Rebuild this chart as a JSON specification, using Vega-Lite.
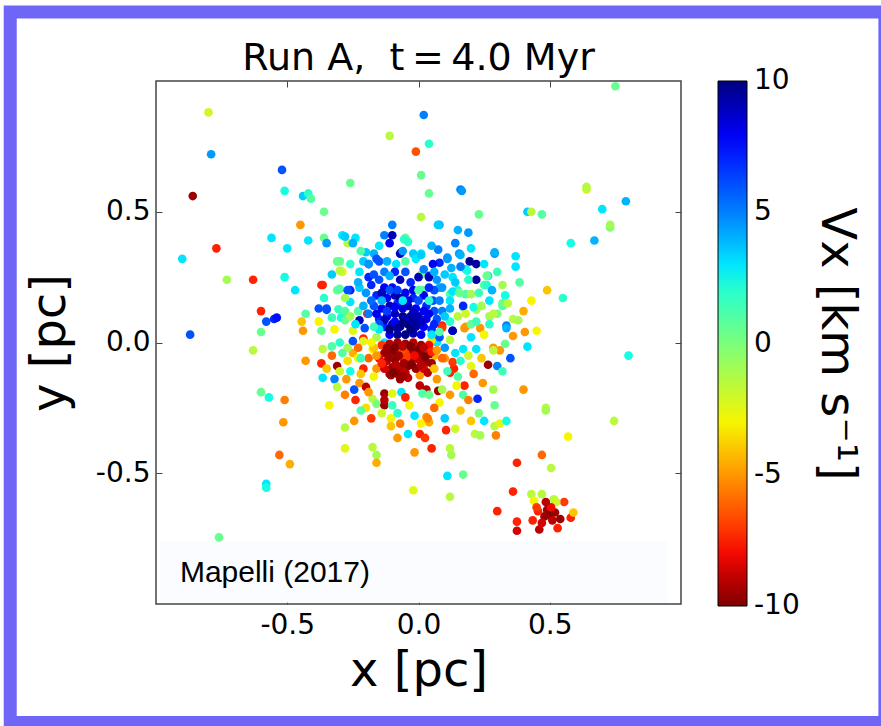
{
"$schema": "https://vega.github.io/schema/vega-lite/v6.json",
"width": 525,
"height": 523,
"autosize": {"type": "none"},
"padding": {"left": 156, "top": 81, "right": 200, "bottom": 122},
"background": "white",
"config": {
  "font": "DejaVu Sans",
  "view": {"stroke": "#444444", "strokeWidth": 1.5},
  "axis": {"grid": false, "domain": false, "labelColor": "black", "titleColor": "black", "labelFontSize": 28, "titleFontSize": 48, "titleFontWeight": "normal", "tickColor": "#444444", "tickSize": -6, "tickWidth": 1}
},
"title": {"text": "Run A,\u00a0\u00a0t\u2009=\u20094.0 Myr", "fontSize": 38, "fontWeight": "normal", "color": "black", "offset": -103, "baseline": "alphabetic", "anchor": "middle"},
"layer": [
  {
    "data": {"values": [{}]},
    "mark": {"type": "rect", "fill": "#fafcff"},
    "encoding": {
      "x": {"datum": -0.985, "type": "quantitative", "scale": {"domain": [-1, 1], "nice": false, "zero": false}, "axis": null},
      "x2": {"datum": 0.95},
      "y": {"datum": -0.76, "type": "quantitative", "scale": {"domain": [-1, 1], "nice": false, "zero": false}, "axis": null},
      "y2": {"datum": -0.995}
    }
  },
  {
    "data": {"values": [
{"x":-0.80,"y":0.88,"v":-2},{"x":-0.79,"y":0.72,"v":4.5},{"x":-0.52,"y":0.66,"v":6},{"x":-0.86,"y":0.56,"v":-9.5},{"x":-0.51,"y":0.58,"v":2.5},{"x":-0.44,"y":0.56,"v":3.5},{"x":-0.42,"y":0.57,"v":2},{"x":-0.41,"y":0.55,"v":1},{"x":-0.36,"y":0.50,"v":0.5},{"x":-0.26,"y":0.61,"v":0.5},{"x":-0.11,"y":0.79,"v":-1.5},{"x":0.02,"y":0.87,"v":5},{"x":0.04,"y":0.76,"v":2},{"x":-0.01,"y":0.73,"v":-6.5},{"x":0.01,"y":0.64,"v":0.5},{"x":0.04,"y":0.57,"v":0.5},{"x":0.01,"y":0.48,"v":-1.5},{"x":-0.45,"y":0.45,"v":-5},{"x":-0.56,"y":0.40,"v":3},{"x":-0.50,"y":0.36,"v":3},{"x":-0.42,"y":0.39,"v":3},{"x":-0.36,"y":0.40,"v":0.5},{"x":-0.35,"y":0.38,"v":4.5},{"x":-0.29,"y":0.41,"v":3},{"x":-0.27,"y":0.38,"v":-1.5},{"x":-0.24,"y":0.40,"v":3},{"x":-0.77,"y":0.36,"v":-7.5},{"x":-0.90,"y":0.32,"v":3},{"x":-0.73,"y":0.24,"v":-1},{"x":-0.63,"y":0.24,"v":-7.5},{"x":-0.51,"y":0.25,"v":2.5},{"x":-0.37,"y":0.22,"v":-7.5},{"x":-0.31,"y":0.31,"v":0.5},{"x":-0.29,"y":0.27,"v":-2.5},{"x":-0.47,"y":0.20,"v":3},{"x":-0.31,"y":0.20,"v":0.5},{"x":-0.60,"y":0.12,"v":-7.5},{"x":-0.58,"y":0.08,"v":6},{"x":-0.55,"y":0.09,"v":7},{"x":-0.54,"y":0.095,"v":7.5},{"x":-0.87,"y":0.03,"v":6},{"x":-0.60,"y":0.04,"v":0.5},{"x":-0.63,"y":-0.03,"v":-1.5},{"x":-0.43,"y":0.11,"v":1},{"x":-0.445,"y":0.08,"v":-4},{"x":-0.38,"y":0.08,"v":-3},{"x":-0.38,"y":0.13,"v":6},{"x":-0.35,"y":0.13,"v":6},{"x":-0.37,"y":0.045,"v":0.5},{"x":-0.44,"y":0.045,"v":-5},{"x":-0.305,"y":0.127,"v":1.5},{"x":-0.295,"y":0.095,"v":2.5},{"x":-0.26,"y":0.20,"v":7},{"x":-0.225,"y":0.27,"v":3},{"x":-0.19,"y":0.25,"v":7},{"x":-0.21,"y":0.31,"v":3.5},{"x":-0.17,"y":0.34,"v":4},{"x":-0.13,"y":0.41,"v":5},{"x":-0.10,"y":0.41,"v":9},{"x":-0.10,"y":0.45,"v":5},{"x":-0.11,"y":0.38,"v":8},{"x":-0.07,"y":0.34,"v":9},{"x":-0.05,"y":0.40,"v":0.5},{"x":-0.02,"y":0.34,"v":3.5},{"x":0.01,"y":0.34,"v":3},{"x":-0.05,"y":0.31,"v":1},{"x":0.01,"y":0.26,"v":0.5},{"x":-0.15,"y":0.31,"v":6},{"x":-0.12,"y":0.31,"v":4},{"x":-0.085,"y":0.30,"v":3},{"x":-0.19,"y":0.30,"v":6},
{"x":0.75,"y":0.98,"v":0.5},{"x":0.16,"y":0.585,"v":5},{"x":0.165,"y":0.58,"v":4.5},{"x":0.23,"y":0.49,"v":0.5},{"x":0.08,"y":0.45,"v":4},{"x":0.15,"y":0.43,"v":4},{"x":0.19,"y":0.42,"v":4.5},{"x":0.415,"y":0.50,"v":3.5},{"x":0.43,"y":0.50,"v":-1.5},{"x":0.47,"y":0.49,"v":1},{"x":0.64,"y":0.585,"v":-2},{"x":0.64,"y":0.595,"v":-1.5},{"x":0.70,"y":0.51,"v":3},{"x":0.79,"y":0.54,"v":4},{"x":0.73,"y":0.44,"v":0},{"x":0.73,"y":0.45,"v":-1},{"x":0.58,"y":0.38,"v":2.5},{"x":0.67,"y":0.39,"v":4},{"x":0.29,"y":0.34,"v":4.5},{"x":0.37,"y":0.33,"v":3},{"x":0.37,"y":0.29,"v":3},{"x":0.385,"y":0.23,"v":1},{"x":0.49,"y":0.20,"v":-4},{"x":0.55,"y":0.17,"v":2},{"x":0.43,"y":0.16,"v":-3},{"x":0.40,"y":0.12,"v":-4.5},{"x":0.36,"y":0.09,"v":-1.5},{"x":0.38,"y":0.085,"v":-1},{"x":0.45,"y":0.045,"v":-3},{"x":0.405,"y":0.04,"v":-5},{"x":0.335,"y":0.065,"v":5},{"x":0.415,"y":-0.016,"v":3},{"x":0.80,"y":-0.05,"v":2.5},{"x":0.32,"y":0.14,"v":1},{"x":0.265,"y":0.255,"v":3},{"x":0.25,"y":0.22,"v":1},{"x":0.195,"y":0.31,"v":9.5},{"x":0.22,"y":0.30,"v":9.5},{"x":0.22,"y":0.24,"v":9.5},{"x":0.18,"y":0.28,"v":3},{"x":0.075,"y":0.355,"v":5},{"x":0.08,"y":0.305,"v":7},{"x":0.11,"y":0.325,"v":4.5},{"x":0.125,"y":0.285,"v":4},{"x":0.155,"y":0.34,"v":4.5},{"x":0.13,"y":0.25,"v":3},{"x":0.15,"y":0.20,"v":2},{"x":0.18,"y":0.185,"v":1},{"x":0.20,"y":0.185,"v":-1},{"x":-0.055,"y":0.395,"v":2},{"x":-0.04,"y":0.385,"v":2},{"x":-0.065,"y":0.345,"v":9},{"x":0.055,"y":0.30,"v":8},{"x":0.04,"y":0.255,"v":7},{"x":0.015,"y":0.20,"v":1},{"x":0.12,"y":0.185,"v":1},{"x":0.17,"y":0.135,"v":0},{"x":0.18,"y":0.11,"v":-2},{"x":0.22,"y":0.125,"v":-1},{"x":0.27,"y":0.10,"v":-1},{"x":0.30,"y":0.11,"v":0},{"x":0.09,"y":0.065,"v":-7.5},{"x":0.13,"y":0.045,"v":7},{"x":0.175,"y":0.055,"v":-5},{"x":0.20,"y":0.02,"v":3},{"x":0.235,"y":0.055,"v":-5},{"x":0.055,"y":0.005,"v":1},{"x":0.285,"y":-0.02,"v":-5},{"x":0.31,"y":-0.03,"v":-5},{"x":0.35,"y":-0.06,"v":6},{"x":0.074,"y":0.45,"v":3.5},
{"x":-0.28,"y":0.405,"v":3.5},{"x":-0.06,"y":0.35,"v":4.5},{"x":-0.01,"y":0.32,"v":3},{"x":0.01,"y":0.335,"v":3.5},{"x":0.11,"y":0.32,"v":4.5},{"x":0.16,"y":0.335,"v":4},{"x":0.29,"y":0.345,"v":4},{"x":0.26,"y":0.255,"v":0.5},{"x":0.185,"y":0.275,"v":2.5},{"x":0.26,"y":0.22,"v":2},{"x":-0.20,"y":0.345,"v":3.5},{"x":-0.19,"y":0.30,"v":4.5},{"x":-0.16,"y":0.32,"v":6},{"x":-0.30,"y":0.31,"v":0.5},{"x":-0.30,"y":0.275,"v":-1.5},{"x":-0.365,"y":0.22,"v":-7.5},{"x":-0.30,"y":0.205,"v":1},{"x":-0.27,"y":0.20,"v":6},{"x":-0.225,"y":0.21,"v":3.5},{"x":-0.26,"y":0.155,"v":3},{"x":-0.35,"y":0.125,"v":6},{"x":-0.28,"y":0.12,"v":1},{"x":-0.33,"y":0.095,"v":1.5},{"x":-0.28,"y":0.085,"v":0.5},{"x":-0.225,"y":0.085,"v":9},{"x":-0.195,"y":0.11,"v":-7.5},{"x":-0.205,"y":0.055,"v":6},{"x":-0.25,"y":0.045,"v":-2.5},{"x":-0.21,"y":0.015,"v":-7.5},{"x":0.055,"y":0.16,"v":6},{"x":0.08,"y":0.21,"v":4},{"x":0.13,"y":0.195,"v":3},{"x":0.12,"y":0.16,"v":3},{"x":0.155,"y":0.19,"v":0.5},{"x":0.17,"y":0.14,"v":7},{"x":0.21,"y":0.135,"v":2.5},{"x":0.32,"y":0.15,"v":0.5},{"x":0.34,"y":0.15,"v":-1.5},{"x":0.285,"y":0.11,"v":-1.5},{"x":0.18,"y":0.06,"v":-5},{"x":0.13,"y":0.045,"v":9},{"x":0.09,"y":0.057,"v":-7},{"x":0.335,"y":0.055,"v":4},{"x":0.36,"y":0.025,"v":-5},
{"x":-0.365,"y":-0.025,"v":-1.5},{"x":-0.37,"y":-0.08,"v":-7.5},{"x":-0.31,"y":-0.09,"v":-9.5},{"x":-0.365,"y":-0.135,"v":3},{"x":-0.32,"y":-0.14,"v":5},{"x":-0.275,"y":-0.14,"v":-5},{"x":-0.28,"y":-0.20,"v":-5.5},{"x":-0.245,"y":-0.18,"v":6},{"x":-0.225,"y":-0.155,"v":-5},{"x":-0.20,"y":-0.17,"v":-9},{"x":-0.175,"y":-0.215,"v":-1.5},{"x":-0.16,"y":-0.235,"v":0},{"x":-0.13,"y":-0.195,"v":-9.5},{"x":-0.13,"y":-0.24,"v":-9.5},{"x":-0.13,"y":-0.22,"v":-9},{"x":-0.10,"y":-0.195,"v":-2.5},{"x":-0.065,"y":-0.19,"v":3},{"x":-0.035,"y":-0.24,"v":-3},{"x":-0.105,"y":-0.29,"v":-3},{"x":-0.105,"y":-0.32,"v":-4},{"x":-0.015,"y":-0.28,"v":3},{"x":0.03,"y":-0.285,"v":-5},{"x":0.04,"y":-0.305,"v":-4.5},{"x":0.01,"y":-0.31,"v":-3},{"x":0.035,"y":-0.29,"v":-5.5},{"x":-0.245,"y":-0.30,"v":-5},{"x":-0.28,"y":-0.325,"v":-1.5},{"x":-0.08,"y":-0.365,"v":-5},{"x":-0.04,"y":-0.35,"v":3},{"x":0.005,"y":-0.35,"v":-7.5},{"x":0.025,"y":-0.365,"v":-7},{"x":0.105,"y":-0.335,"v":-7.5},{"x":0.05,"y":-0.405,"v":-7.5},{"x":-0.015,"y":-0.42,"v":-5},{"x":-0.28,"y":-0.405,"v":-2.5},{"x":-0.175,"y":-0.40,"v":-1.5},{"x":-0.16,"y":-0.43,"v":-1},{"x":-0.16,"y":-0.46,"v":-4.5},{"x":0.12,"y":-0.405,"v":-1.5},{"x":0.125,"y":-0.43,"v":-1},{"x":0.215,"y":-0.35,"v":-1.5},{"x":0.235,"y":-0.355,"v":-1},{"x":0.295,"y":-0.355,"v":-5.5},{"x":0.29,"y":-0.32,"v":-1.5},{"x":0.31,"y":-0.31,"v":-2.5},{"x":0.335,"y":-0.30,"v":2.5},{"x":0.29,"y":-0.24,"v":0.5},{"x":0.285,"y":-0.18,"v":-1},{"x":0.225,"y":-0.215,"v":7},{"x":0.245,"y":-0.155,"v":-5},{"x":0.175,"y":-0.165,"v":-7.5},{"x":0.145,"y":-0.165,"v":-3},{"x":0.12,"y":-0.20,"v":-5},{"x":0.135,"y":-0.10,"v":-7.5},{"x":0.12,"y":-0.115,"v":-7.5},{"x":0.265,"y":-0.085,"v":-9.5},{"x":0.20,"y":-0.09,"v":-2.5},{"x":0.17,"y":-0.025,"v":3},{"x":0.22,"y":-0.025,"v":3},{"x":0.285,"y":-0.03,"v":-1.5},{"x":0.33,"y":-0.005,"v":0.5},{"x":0.005,"y":-0.165,"v":-9},{"x":0.03,"y":-0.18,"v":-9},{"x":0.075,"y":-0.185,"v":-9.5},{"x":0.015,"y":-0.195,"v":1},{"x":0.04,"y":-0.20,"v":0.5},{"x":-0.07,"y":-0.14,"v":-9.5},{"x":-0.04,"y":-0.135,"v":-9},{"x":-0.105,"y":-0.125,"v":-9.5},{"x":0.005,"y":-0.125,"v":-5},{"x":0.07,"y":-0.14,"v":-5},{"x":0.13,"y":-0.075,"v":-7},{"x":0.11,"y":-0.11,"v":1.5},{"x":0.15,"y":-0.13,"v":1},{"x":-0.21,"y":-0.10,"v":-7.5},{"x":-0.16,"y":-0.10,"v":-5},{"x":-0.15,"y":-0.05,"v":-4},{"x":-0.175,"y":-0.025,"v":-3},{"x":-0.30,"y":0.0,"v":2},{"x":-0.25,"y":0.005,"v":6},{"x":-0.21,"y":0.005,"v":-2.5},
{"x":0.11,"y":-0.51,"v":3},{"x":0.17,"y":-0.505,"v":0.5},{"x":0.12,"y":-0.59,"v":-1.5},{"x":-0.02,"y":-0.565,"v":-2.5},{"x":0.47,"y":-0.43,"v":-6},{"x":0.505,"y":-0.48,"v":-1.5},{"x":0.375,"y":-0.46,"v":-7.5},{"x":0.36,"y":-0.57,"v":-7.5},{"x":0.30,"y":-0.645,"v":-7.5},{"x":0.375,"y":-0.685,"v":-7.5},{"x":0.375,"y":-0.72,"v":-8.5},{"x":0.46,"y":-0.715,"v":-9},{"x":0.53,"y":-0.71,"v":-7.5},{"x":0.435,"y":-0.68,"v":-7.5},{"x":0.58,"y":-0.67,"v":-7.5},{"x":0.59,"y":-0.65,"v":-4},{"x":0.555,"y":-0.61,"v":-7},{"x":0.43,"y":-0.58,"v":-1.5},{"x":0.47,"y":-0.58,"v":-1.5},{"x":0.515,"y":-0.60,"v":-1.5},{"x":0.525,"y":-0.61,"v":-2},{"x":0.44,"y":-0.605,"v":-3},{"x":0.49,"y":-0.64,"v":-9.5},{"x":0.50,"y":-0.66,"v":-10},{"x":0.48,"y":-0.665,"v":-9.5},{"x":0.52,"y":-0.65,"v":-9.5},{"x":0.51,"y":-0.68,"v":-9},{"x":0.47,"y":-0.69,"v":-8.5},{"x":0.54,"y":-0.675,"v":-9.5},{"x":0.505,"y":-0.63,"v":-8},{"x":0.455,"y":-0.645,"v":-7.5},{"x":0.485,"y":-0.61,"v":-9},{"x":0.45,"y":-0.63,"v":-7},{"x":0.485,"y":-0.25,"v":-1.5},{"x":0.485,"y":-0.26,"v":-1},{"x":0.745,"y":-0.30,"v":-1.5},{"x":0.57,"y":-0.36,"v":-3},{"x":0.40,"y":-0.18,"v":-5},
{"x":-0.43,"y":-0.07,"v":-5},{"x":-0.60,"y":-0.19,"v":0.5},{"x":-0.57,"y":-0.21,"v":2.5},{"x":-0.51,"y":-0.22,"v":-5.5},{"x":-0.515,"y":-0.305,"v":-5},{"x":-0.53,"y":-0.43,"v":-6},{"x":-0.49,"y":-0.465,"v":-4.5},{"x":-0.58,"y":-0.54,"v":3},{"x":-0.58,"y":-0.555,"v":2.5},{"x":-0.76,"y":-0.745,"v":0.5},
{"x":-0.33,"y":-0.015,"v":1},{"x":-0.25,"y":-0.04,"v":-4.5},{"x":-0.23,"y":-0.06,"v":-3},{"x":-0.19,"y":-0.06,"v":-6},{"x":-0.27,"y":-0.07,"v":-3.5},{"x":-0.22,"y":-0.12,"v":-4},{"x":-0.30,"y":-0.11,"v":-2},{"x":-0.17,"y":-0.13,"v":-3},{"x":0.07,"y":0.0,"v":3},{"x":0.10,"y":-0.02,"v":4.5},{"x":0.12,"y":0.01,"v":-1.5},{"x":0.14,"y":-0.04,"v":3},{"x":0.10,"y":-0.06,"v":-5},{"x":0.16,"y":-0.07,"v":2},{"x":0.06,"y":-0.05,"v":-4.5},{"x":0.24,"y":-0.06,"v":-4},{"x":0.30,"y":-0.09,"v":5},{"x":0.32,"y":-0.11,"v":1.5},{"x":-0.13,"y":0.0,"v":3},{"x":-0.16,"y":0.02,"v":-1},{"x":0.05,"y":0.01,"v":-3.5},{"x":0.08,"y":0.02,"v":6},
{"x":-0.24,"y":0.07,"v":3},{"x":-0.26,"y":0.10,"v":-1},{"x":0.12,"y":0.08,"v":2},{"x":0.15,"y":0.10,"v":-1.5},{"x":0.20,"y":0.07,"v":0.5},{"x":0.25,"y":0.03,"v":-3},{"x":0.27,"y":0.16,"v":3},{"x":0.23,"y":0.19,"v":1.5},{"x":-0.23,"y":-0.02,"v":-6},{"x":-0.27,"y":-0.02,"v":-1},{"x":0.19,"y":-0.05,"v":-2},{"x":0.21,"y":-0.12,"v":-6},{"x":0.17,"y":-0.20,"v":1},{"x":0.08,"y":-0.23,"v":-3},{"x":-0.05,"y":-0.21,"v":-7.5},{"x":-0.20,"y":-0.25,"v":-3.5},{"x":-0.08,"y":-0.27,"v":2},{"x":0.06,"y":-0.25,"v":-6},{"x":0.10,"y":-0.29,"v":3.5},{"x":-0.22,"y":-0.06,"v":1.5},{"x":-0.32,"y":0.05,"v":-3},{"x":0.25,"y":0.30,"v":3},{"x":0.05,"y":0.37,"v":4},{"x":-0.15,"y":0.37,"v":3},{"x":-0.22,"y":0.35,"v":1},{"x":0.14,"y":0.38,"v":5},{"x":0.32,"y":0.22,"v":-1},{"x":0.20,"y":-0.30,"v":-4},{"x":-0.10,"y":-0.24,"v":1.5},
{"x":-0.33,"y":-0.05,"v":-6},{"x":-0.29,"y":-0.04,"v":1},{"x":-0.35,"y":-0.10,"v":-4},{"x":-0.26,"y":-0.11,"v":2.5},{"x":-0.24,"y":-0.22,"v":-7.5},{"x":-0.19,"y":-0.19,"v":-5},{"x":-0.22,"y":-0.26,"v":1},{"x":-0.31,"y":-0.17,"v":-1.5},{"x":-0.18,"y":-0.29,"v":-7},{"x":-0.14,"y":-0.27,"v":-2},{"x":-0.34,"y":-0.24,"v":-3},{"x":-0.07,"y":-0.31,"v":-5.5},{"x":0.14,"y":0.23,"v":3.5},{"x":0.19,"y":0.24,"v":2},{"x":0.24,"y":0.14,"v":-1},{"x":0.28,"y":0.20,"v":4},{"x":0.22,"y":0.08,"v":1.5},{"x":0.12,"y":0.13,"v":4},{"x":0.16,"y":0.29,"v":5},{"x":0.27,"y":0.07,"v":2},{"x":0.10,"y":0.26,"v":3.5},{"x":0.33,"y":0.18,"v":2.5},{"x":0.20,"y":0.36,"v":3},{"x":0.30,"y":0.27,"v":1.5},{"x":0.16,"y":-0.26,"v":-4},{"x":0.23,"y":-0.27,"v":0},{"x":0.09,"y":-0.18,"v":-1},{"x":0.19,"y":-0.22,"v":-5.5},{"x":0.25,"y":-0.30,"v":3},{"x":0.14,"y":-0.33,"v":-2},{"x":-0.26,"y":0.30,"v":2},{"x":-0.33,"y":0.26,"v":3.5},{"x":-0.23,"y":0.12,"v":1},{"x":-0.28,"y":0.17,"v":-1},{"x":-0.36,"y":0.17,"v":2},{"x":-0.25,"y":0.38,"v":4},
{"x":-0.18,"y":0.22,"v":7},{"x":-0.15,"y":0.24,"v":6},{"x":-0.13,"y":0.21,"v":8},{"x":-0.10,"y":0.21,"v":8},{"x":-0.07,"y":0.24,"v":9},{"x":-0.03,"y":0.23,"v":7},{"x":0.00,"y":0.25,"v":9},{"x":0.04,"y":0.25,"v":9},{"x":-0.16,"y":0.18,"v":7},{"x":-0.12,"y":0.17,"v":8},{"x":-0.09,"y":0.18,"v":9},{"x":-0.05,"y":0.19,"v":8},{"x":-0.02,"y":0.17,"v":7},{"x":0.02,"y":0.18,"v":8},{"x":0.06,"y":0.20,"v":6},{"x":-0.17,"y":0.14,"v":6},{"x":-0.14,"y":0.13,"v":8},{"x":-0.11,"y":0.14,"v":9},{"x":-0.08,"y":0.15,"v":7},{"x":-0.04,"y":0.14,"v":9},{"x":-0.01,"y":0.13,"v":8},{"x":0.03,"y":0.14,"v":7},{"x":0.06,"y":0.12,"v":6},{"x":-0.15,"y":0.09,"v":7},{"x":-0.12,"y":0.10,"v":8},{"x":-0.09,"y":0.11,"v":9},{"x":-0.06,"y":0.10,"v":10},{"x":-0.03,"y":0.10,"v":9.5},{"x":0.00,"y":0.10,"v":9},{"x":0.03,"y":0.09,"v":8},{"x":-0.13,"y":0.06,"v":7},{"x":-0.10,"y":0.07,"v":9},{"x":-0.07,"y":0.06,"v":10},{"x":-0.04,"y":0.07,"v":10},{"x":-0.01,"y":0.06,"v":9.5},{"x":0.02,"y":0.06,"v":8},{"x":0.05,"y":0.05,"v":7},{"x":-0.11,"y":0.03,"v":8},{"x":-0.08,"y":0.03,"v":9.5},{"x":-0.05,"y":0.03,"v":10},{"x":-0.02,"y":0.035,"v":9},{"x":0.01,"y":0.03,"v":8},{"x":-0.06,"y":0.13,"v":8.5},{"x":-0.02,"y":0.20,"v":8},{"x":-0.11,"y":0.20,"v":6},{"x":0.08,"y":0.16,"v":5},{"x":0.07,"y":0.09,"v":6},{"x":-0.19,"y":0.11,"v":5},{"x":-0.20,"y":0.19,"v":4.5},{"x":0.09,"y":0.21,"v":4.5},{"x":-0.08,"y":0.20,"v":6.5},{"x":-0.05,"y":0.09,"v":9},{"x":-0.03,"y":0.05,"v":10},{"x":-0.09,"y":0.08,"v":8},{"x":-0.12,"y":0.12,"v":6.5},{"x":0.00,"y":0.16,"v":6},
{"x":-0.17,"y":0.26,"v":6},{"x":-0.13,"y":0.27,"v":5},{"x":-0.09,"y":0.27,"v":7},{"x":-0.05,"y":0.27,"v":6},{"x":0.02,"y":0.28,"v":5},{"x":0.06,"y":0.27,"v":4},{"x":-0.14,"y":0.19,"v":9},{"x":-0.07,"y":0.17,"v":9.5},{"x":0.04,"y":0.21,"v":7},{"x":-0.16,"y":0.11,"v":8},{"x":-0.13,"y":0.085,"v":9},{"x":-0.11,"y":0.05,"v":10},{"x":-0.08,"y":0.055,"v":9.5},{"x":-0.06,"y":0.075,"v":10},{"x":-0.02,"y":0.08,"v":9.5},{"x":0.01,"y":0.08,"v":9},{"x":0.04,"y":0.11,"v":8},{"x":-0.02,"y":0.115,"v":9},{"x":-0.09,"y":0.135,"v":8},{"x":-0.04,"y":0.16,"v":8.5},{"x":0.02,"y":0.12,"v":8},{"x":-0.15,"y":0.07,"v":6},{"x":0.06,"y":0.07,"v":7},{"x":-0.18,"y":0.16,"v":5.5},{"x":0.09,"y":0.12,"v":5},{"x":-0.21,"y":0.14,"v":4},{"x":0.10,"y":0.10,"v":3.5},{"x":-0.23,"y":0.23,"v":4},{"x":0.07,"y":0.24,"v":4.5},{"x":-0.11,"y":0.255,"v":4},
{"x":-0.06,"y":0.16,"v":3},{"x":0.00,"y":0.20,"v":1},{"x":0.04,"y":0.16,"v":2},{"x":-0.15,"y":0.05,"v":3},{"x":-0.14,"y":0.16,"v":4},{"x":0.05,"y":0.03,"v":3},{"x":-0.17,"y":0.06,"v":1.5},{"x":0.08,"y":0.04,"v":1},
{"x":-0.14,"y":-0.01,"v":-7},{"x":-0.11,"y":-0.005,"v":-9},{"x":-0.08,"y":0.0,"v":-9.5},{"x":-0.05,"y":-0.005,"v":-9.5},{"x":-0.02,"y":0.0,"v":-9},{"x":0.01,"y":-0.01,"v":-9.5},{"x":0.04,"y":-0.01,"v":-8},{"x":-0.13,"y":-0.04,"v":-9.5},{"x":-0.10,"y":-0.035,"v":-10},{"x":-0.07,"y":-0.03,"v":-8},{"x":-0.04,"y":-0.04,"v":-7},{"x":-0.02,"y":-0.03,"v":-9.5},{"x":0.01,"y":-0.04,"v":-10},{"x":0.04,"y":-0.045,"v":-9},{"x":-0.12,"y":-0.07,"v":-9},{"x":-0.09,"y":-0.065,"v":-10},{"x":-0.06,"y":-0.06,"v":-7.5},{"x":-0.03,"y":-0.07,"v":-9.5},{"x":0.0,"y":-0.065,"v":-9},{"x":0.03,"y":-0.075,"v":-9.5},{"x":-0.10,"y":-0.095,"v":-9.5},{"x":-0.07,"y":-0.10,"v":-9},{"x":-0.04,"y":-0.09,"v":-10},{"x":-0.01,"y":-0.10,"v":-9.5},{"x":0.02,"y":-0.10,"v":-8.5},{"x":-0.08,"y":-0.12,"v":-9.5},{"x":-0.05,"y":-0.115,"v":-9},{"x":-0.15,"y":-0.06,"v":-8},{"x":0.05,"y":-0.08,"v":-9.5},{"x":-0.06,"y":-0.03,"v":-6.5},{"x":-0.045,"y":-0.055,"v":-7},{"x":0.0,"y":-0.025,"v":-10},{"x":-0.11,"y":-0.12,"v":-9.5},{"x":-0.13,"y":-0.10,"v":-8.5},
{"x":-0.12,"y":-0.02,"v":-9.5},{"x":-0.09,"y":-0.02,"v":-10},{"x":-0.06,"y":-0.015,"v":-9},{"x":-0.03,"y":-0.015,"v":-10},{"x":0.02,"y":-0.02,"v":-9},{"x":-0.11,"y":-0.055,"v":-9.5},{"x":-0.075,"y":-0.05,"v":-9.5},{"x":-0.015,"y":-0.05,"v":-8},{"x":0.025,"y":-0.055,"v":-10},{"x":-0.085,"y":-0.085,"v":-9},{"x":-0.055,"y":-0.08,"v":-9.5},{"x":-0.025,"y":-0.085,"v":-10},{"x":0.01,"y":-0.085,"v":-9},{"x":-0.06,"y":-0.13,"v":-9.5},{"x":-0.14,"y":-0.08,"v":-7.5},{"x":0.05,"y":-0.035,"v":-7.5},{"x":-0.095,"y":-0.115,"v":-10},{"x":0.035,"y":-0.115,"v":-9},
{"x":-0.17,"y":-0.02,"v":-4},{"x":-0.16,"y":-0.05,"v":-5},{"x":0.07,"y":-0.03,"v":-5},{"x":0.06,"y":-0.10,"v":-4},{"x":-0.18,"y":0.0,"v":-3},{"x":0.09,"y":-0.06,"v":-6}
    ]},
    "mark": {"type": "circle", "size": 75, "opacity": 1},
    "encoding": {
      "x": {"field": "x", "type": "quantitative", "scale": {"domain": [-1, 1], "nice": false, "zero": false},
            "axis": {"orient": "bottom", "values": [-0.5, 0, 0.5], "labelExpr": "datum.value < 0 ? '-' + format(abs(datum.value), '.1f') : format(datum.value, '.1f')", "labelPadding": 13, "title": "x [pc]", "titlePadding": 8}},
      "y": {"field": "y", "type": "quantitative", "scale": {"domain": [-1, 1], "nice": false, "zero": false},
            "axis": {"orient": "left", "values": [-0.5, 0, 0.5], "labelExpr": "datum.value < 0 ? '-' + format(abs(datum.value), '.1f') : format(datum.value, '.1f')", "labelPadding": 12, "title": "y [pc]", "titlePadding": 21}},
      "color": {"field": "v", "type": "quantitative",
        "scale": {"domain": [-10, -8.2, -7.8, -5, -3, 0, 2.5, 3, 5, 7.8, 10],
                  "range": ["#800000", "#e80000", "#ff1300", "#ff9700", "#f7f500", "#7bff7b", "#14ffe2", "#00e6ff", "#0080ff", "#0000ff", "#000080"], "interpolate": "rgb"},
        "legend": {"orient": "right", "direction": "vertical", "values": [-9.999, -5, 0, 5, 9.999], "gradientLength": 525, "gradientThickness": 29, "gradientStrokeColor": "black", "gradientStrokeWidth": 1, "labelFontSize": 28, "labelColor": "black", "labelOffset": 7, "labelOverlap": false, "labelExpr": "datum.value < 0 ? '-' + round(abs(datum.value)) : '' + round(datum.value)", "title": "Vx [km s⁻¹]", "titleOrient": "right", "titleFontSize": 48, "titleFontWeight": "normal", "titleColor": "black", "titleAnchor": "middle", "titleLimit": 1000, "titlePadding": 12, "offset": 36, "padding": 0,
          "encode": {"title": {"update": {"angle": {"value": -90}}}}}}
    }
  },
  {
    "data": {"values": [{}]},
    "mark": {"type": "text", "text": "Mapelli (2017)", "font": "Liberation Sans", "fontSize": 30, "align": "left", "baseline": "alphabetic", "color": "black"},
    "encoding": {
      "x": {"datum": -0.909, "type": "quantitative", "scale": {"domain": [-1, 1], "nice": false, "zero": false}, "axis": {"orient": "top", "values": [-0.5, 0, 0.5], "labels": false, "title": null}},
      "y": {"datum": -0.916, "type": "quantitative", "scale": {"domain": [-1, 1], "nice": false, "zero": false}, "axis": {"orient": "right", "values": [-0.5, 0, 0.5], "labels": false, "title": null}}
    }
  },
  {
    "data": {"values": [{}]},
    "mark": {"type": "rect", "fill": null, "stroke": "#6f66f7", "strokeWidth": 13, "clip": false},
    "encoding": {
      "x": {"datum": -1.5553, "type": "quantitative", "scale": {"domain": [-1, 1], "nice": false, "zero": false}, "axis": null},
      "x2": {"datum": 1.7767},
      "y": {"datum": 1.2641, "type": "quantitative", "scale": {"domain": [-1, 1], "nice": false, "zero": false}, "axis": null},
      "y2": {"datum": -1.4534}
    }
  }
],
"resolve": {"axis": {"x": "independent", "y": "independent"}}
}
